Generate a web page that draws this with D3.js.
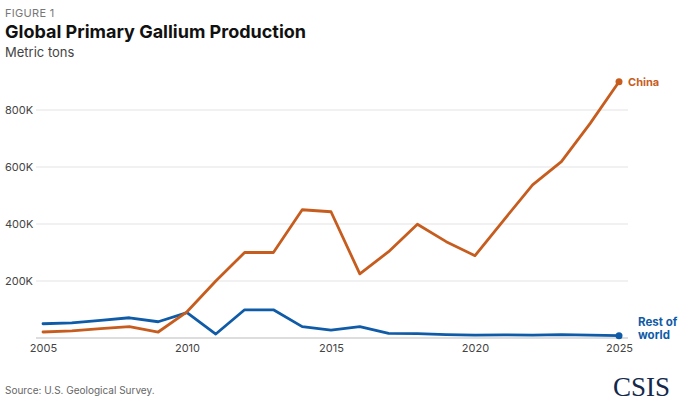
<!DOCTYPE html>
<html>
<head>
<meta charset="utf-8">
<script src="https://cdn.jsdelivr.net/npm/d3@7"></script>
<style>
  body { margin: 0; background: #fff; }
  svg { font-family: Inter, "Open Sans", sans-serif; }
</style>
</head>
<body>
<svg id="chart" width="680" height="406"></svg>
<script>
// values (metric tons)
const years = d3.range(2005, 2026);
const china = [21000, 25000, 33000, 40000, 21000, 92000, 200000, 300000, 300000, 450000, 443000,
  225000, 303000, 399000, 338000, 289000, 414000, 537000, 619000, 753000, 899000];
const restOfWorld = [50000, 53000, 62000, 71000, 57000, 89000, 14000, 99000, 99000, 40000, 28000,
  40000, 16000, 15000, 12000, 10000, 11000, 10000, 12000, 10000, 8000];
const yTicks = [200000, 400000, 600000, 800000];
const xTicks = [2005, 2010, 2015, 2020, 2025];

const svg = d3.select("#chart");
const orange = "#c65d1e", blue = "#0f5ba7";

const x = d3.scaleLinear().domain([2005, 2025]).range([43, 619]);
const y = d3.scaleLinear().domain([0, 800000]).range([338, 110]);

// header
svg.append("text").attr("x", 5).attr("y", 17)
  .attr("font-size", 11).attr("fill", "#777").attr("letter-spacing", 0.3)
  .text("FIGURE 1");
svg.append("text").attr("x", 5).attr("y", 38)
  .attr("font-size", 18).attr("font-weight", 700).attr("fill", "#111")
  .text("Global Primary Gallium Production");
svg.append("text").attr("x", 5).attr("y", 57)
  .attr("font-size", 13).attr("fill", "#444")
  .text("Metric tons");

// grid + y labels
const grid = svg.append("g");
grid.selectAll("line").data(yTicks).join("line")
  .attr("x1", 36).attr("x2", 628)
  .attr("y1", d => y(d)).attr("y2", d => y(d))
  .attr("stroke", "#e3e3e3").attr("stroke-width", 1);
grid.selectAll("text").data(yTicks).join("text")
  .attr("x", 5).attr("y", d => y(d)).attr("dy", "0.35em")
  .attr("font-size", 11).attr("fill", "#444")
  .text(d => d3.format("~s")(d).replace("k", "K"));

// baseline
svg.append("line").attr("x1", 36).attr("x2", 628)
  .attr("y1", y(0)).attr("y2", y(0))
  .attr("stroke", "#bbb").attr("stroke-width", 1.2);

// x axis
const xAxis = d3.axisBottom(x).tickValues(xTicks).tickFormat(d3.format("d")).tickSize(0).tickPadding(6);
svg.append("g").attr("transform", `translate(0,${y(0)})`).call(xAxis)
  .call(g => g.select(".domain").remove())
  .call(g => g.selectAll("text").attr("font-size", 11).attr("fill", "#444")
    .attr("font-family", "Inter, 'Open Sans', sans-serif"));

// lines
const line = d3.line().x((d, i) => x(years[i])).y(d => y(d));
[[restOfWorld, blue], [china, orange]].forEach(([vals, col]) => {
  svg.append("path").datum(vals)
    .attr("d", line).attr("fill", "none")
    .attr("stroke", col).attr("stroke-width", 2.8)
    .attr("stroke-linejoin", "round").attr("stroke-linecap", "round");
  svg.append("circle")
    .attr("cx", x(years[years.length - 1])).attr("cy", y(vals[vals.length - 1]))
    .attr("r", 3.5).attr("fill", col);
});

// end labels
svg.append("text").attr("x", 628).attr("y", y(china[china.length - 1])).attr("dy", "0.35em")
  .attr("font-size", 11).attr("font-weight", 700).attr("fill", orange).text("China");
svg.append("text").attr("x", 638).attr("y", 326)
  .attr("font-size", 11.5).attr("font-weight", 700).attr("fill", blue).text("Rest of");
svg.append("text").attr("x", 638).attr("y", 339)
  .attr("font-size", 11.5).attr("font-weight", 700).attr("fill", blue).text("world");

// footer
svg.append("text").attr("x", 5).attr("y", 394)
  .attr("font-size", 10).attr("fill", "#666")
  .text("Source: U.S. Geological Survey.");
svg.append("text").attr("x", 670).attr("y", 396).attr("text-anchor", "end")
  .attr("font-family", "'Liberation Serif', 'DejaVu Serif', serif")
  .attr("font-size", 27).attr("fill", "#14284b")
  .text("CSIS");
</script>
</body>
</html>
